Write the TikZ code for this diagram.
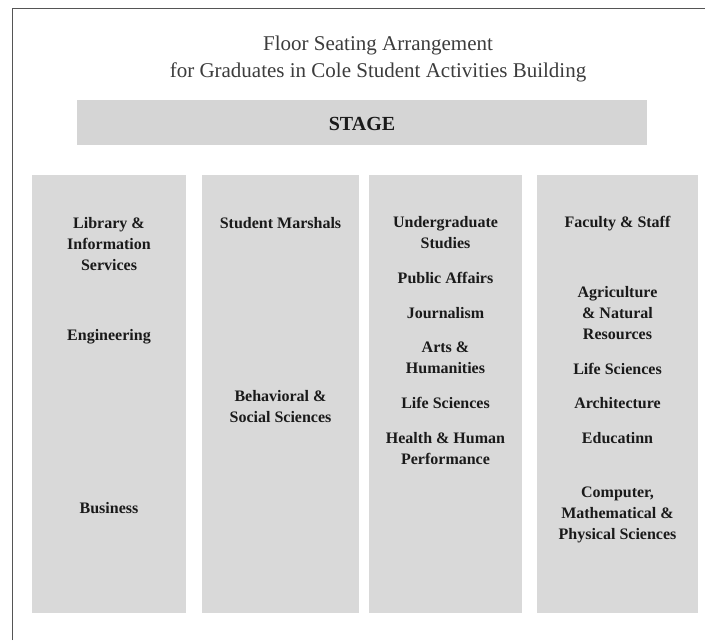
\documentclass[tikz,border=0pt]{standalone}
\usepackage{fontspec}
\setmainfont{Liberation Serif}
\definecolor{panel}{HTML}{D9D9D9}
\definecolor{stagegray}{HTML}{D5D5D5}
\definecolor{ink}{HTML}{1A1A1A}
\definecolor{frameline}{HTML}{555555}
\tikzset{
  panelbox/.style={fill=panel, draw=none},
  lab/.style={font=\fontsize{16}{21.3}\selectfont\bfseries, align=center, inner sep=0pt, anchor=north, text=ink},
  titletext/.style={font=\fontsize{21}{26.5}\selectfont, align=center, inner sep=0pt, anchor=north, text=ink!85},
}
\begin{document}
\begin{tikzpicture}[x=1pt, y=-1pt]
\useasboundingbox (0,0) rectangle (714,640);
\fill[white] (0,0) rectangle (714,640);
% frame
\coordinate (f1) at (12,640);
\coordinate (f2) at (12,8);
\coordinate (f3) at (705,8);
\draw[frameline, line width=0.8pt] (f1) -- (f2) -- (f3);
% title
\node[titletext] (title) at (378,50.5-18.55) {\rule{0pt}{18.55pt}Floor Seating Arrangement\\for Graduates in Cole Student Activities Building};
% stage
\node[panelbox, fill=stagegray, minimum width=570pt, minimum height=45pt, inner sep=0pt] (stage) at (362,122.5) {};
\node[font=\fontsize{20}{24}\selectfont\bfseries, text=ink, inner sep=0pt, anchor=base] (stagetext) at (362,130) {STAGE};
% columns
\fill[panel] (32,175) rectangle (186,613);
\fill[panel] (202,175) rectangle (359,613);
\fill[panel] (369,175) rectangle (522,613);
\fill[panel] (537,175) rectangle (698,613);
% column 1
\node[lab] (lib) at (109,228-14.9) {\strut Library \&\\Information\\Services};
\node[lab] (eng) at (109,340-14.9) {\strut Engineering};
\node[lab] (bus) at (109,513-14.9) {\strut Business};
% column 2
\node[lab] (mar) at (280.5,228-14.9) {\strut Student Marshals};
\node[lab] (beh) at (280.5,401-14.9) {\strut Behavioral \&\\Social Sciences};
% column 3
\node[lab] (und) at (445.5,227-14.9) {\strut Undergraduate\\Studies};
\node[lab] (pub) at (445.5,283-14.9) {\strut Public Affairs};
\node[lab] (jou) at (445.5,318-14.9) {\strut Journalism};
\node[lab] (art) at (445.5,352-14.9) {\strut Arts \&\\Humanities};
\node[lab] (lif) at (445.5,408-14.9) {\strut Life Sciences};
\node[lab] (hea) at (445.5,443-14.9) {\strut Health \& Human\\Performance};
% column 4
\node[lab] (fac) at (617.5,227-14.9) {\strut Faculty \& Staff};
\node[lab] (agr) at (617.5,297-14.9) {\strut Agriculture\\\& Natural\\Resources};
\node[lab] (lif2) at (617.5,374-14.9) {\strut Life Sciences};
\node[lab] (arc) at (617.5,408-14.9) {\strut Architecture};
\node[lab] (edu) at (617.5,443-14.9) {\strut Educatinn};
\node[lab] (com) at (617.5,497-14.9) {\strut Computer,\\Mathematical \&\\Physical Sciences};
\end{tikzpicture}
\end{document}
